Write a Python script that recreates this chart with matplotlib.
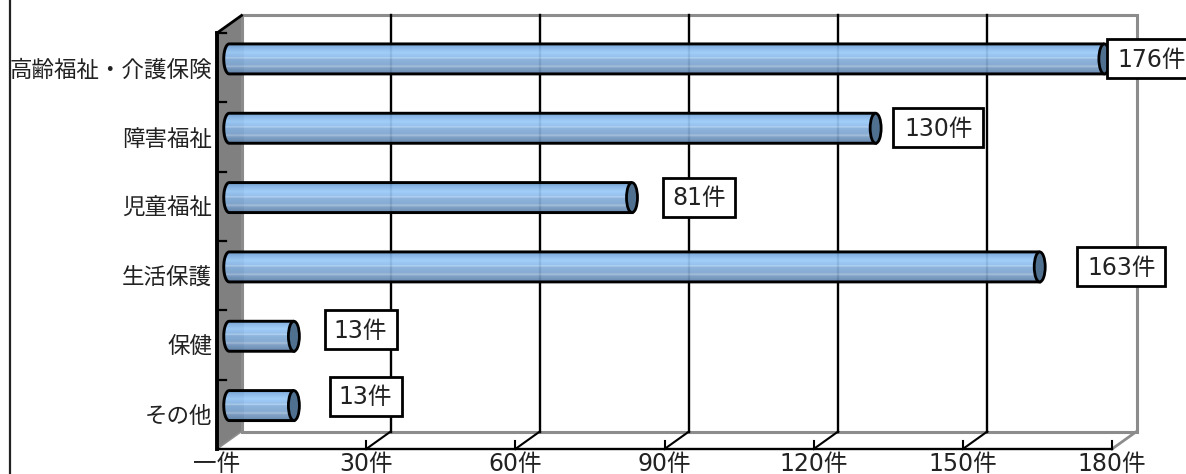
import matplotlib
matplotlib.use("Agg")
import matplotlib.pyplot as plt
from matplotlib.lines import Line2D
from matplotlib.patches import Ellipse, PathPatch, Polygon, Rectangle
from matplotlib.path import Path
from matplotlib.colors import LinearSegmentedColormap
import numpy as np

plt.rcParams["font.family"] = ["DejaVu Sans", "Noto Sans CJK JP"]

categories = ["高齢福祉・介護保険", "障害福祉", "児童福祉", "生活保護", "保健", "その他"]
counts = [176, 130, 81, 163, 13, 13]
x_ticks = [0, 30, 60, 90, 120, 150, 180]
x_tick_labels = ["一件", "30件", "60件", "90件", "120件", "150件", "180件"]

# value label box offsets from the end of each bar, in pixels
label_dx = [15, 30, 43, 50, 43, 48]
label_dy = [-9, -9, -9, -9, -15, -18]
label_w = [90, 90, 72, 88, 72, 72]

W, H = 1186, 474
fig = plt.figure(figsize=(W / 100, H / 100), dpi=100)
ax = fig.add_axes([217 / W, (H - 449) / H, 895 / W, 416 / H])
ax.set_xlim(0, 180)
ax.set_ylim(6, 0)
ax.axis("off")

# pixel sizes expressed in data units
ux = 180 / 895
uy = 6 / 416
depth_x = 24.5 * ux
depth_y = 17.5 * uy
GRAY = "#8c8c8c"
TEXT = "#222222"

# side wall
ax.add_patch(Polygon([(0, 0), (depth_x, -depth_y), (depth_x, 6 - depth_y), (0, 6)],
                     closed=True, facecolor="#808080", edgecolor="none", clip_on=False, zorder=1))

# back plane and floor edges
ax.plot([depth_x, 180 + depth_x, 180 + depth_x, depth_x, depth_x],
        [-depth_y, -depth_y, 6 - depth_y, 6 - depth_y, -depth_y],
        color=GRAY, lw=2.2, clip_on=False, zorder=1.5, solid_joinstyle="miter")
ax.plot([0, depth_x], [6, 6 - depth_y], color=GRAY, lw=1.2, clip_on=False, zorder=1.5)
ax.plot([180, 180 + depth_x], [6, 6 - depth_y], color=GRAY, lw=2, clip_on=False, zorder=1.5)

# grid lines run over the back plane and down across the floor
for t in x_ticks[1:-1]:
    ax.plot([t + depth_x, t + depth_x], [-depth_y, 6 - depth_y], color="black", lw=1.7, clip_on=False, zorder=2)
    ax.plot([t + depth_x, t], [6 - depth_y, 6], color="black", lw=1.5, clip_on=False, zorder=2)
for t in x_ticks[1:]:
    ax.plot([t, t], [6, 6 - 8 * uy], color="black", lw=1.5, clip_on=False, zorder=2)

# front axis lines
ax.plot([0, 0], [0, 6], color="black", lw=2.8, clip_on=False, zorder=3)
ax.plot([0, depth_x], [0, -depth_y], color="black", lw=2, clip_on=False, zorder=3)
ax.plot([0, 180], [6, 6], color="black", lw=1.7, clip_on=False, zorder=3)
for i in range(6):
    ax.plot([0, 9 * ux], [i, i], color="black", lw=1.6, clip_on=False, zorder=3)

# cylinder bars
bar_cmap = LinearSegmentedColormap.from_list(
    "bar", [(0, "#6f9fd0"), (0.12, "#84b4e6"), (0.28, "#9ccbfa"), (0.42, "#8fbcec"), (0.46, "#b4d4f2"),
            (0.5, "#86b0dc"), (0.7, "#7fa6d0"), (0.74, "#a4c0dc"), (0.8, "#7a9cc4"), (1, "#5f83aa")])
gradient = np.linspace(0, 1, 128).reshape(-1, 1)
half_h = 15 * uy
rx = 5.5 * ux
for i, (name, value) in enumerate(zip(categories, counts)):
    yc = i + 0.5 - depth_y / 2
    x_end = value + depth_x / 2
    x_start = depth_x / 2
    t = np.linspace(np.pi / 2, 3 * np.pi / 2, 40)
    outline = [(x_end, yc - half_h)]
    outline += list(zip(x_start + rx * np.cos(t), yc - half_h * np.sin(t)))
    outline += [(x_end, yc + half_h), (x_end, yc - half_h)]
    body = PathPatch(Path(outline), facecolor="none", edgecolor="black", lw=2.1, clip_on=False, zorder=5)
    ax.add_patch(body)
    img = ax.imshow(gradient, cmap=bar_cmap, aspect="auto", alpha=0.94, zorder=4,
                    extent=[x_start - rx, x_end, yc + half_h, yc - half_h])
    img.set_clip_path(Path(outline), ax.transData)
    ax.add_patch(Ellipse((x_end, yc), 2 * rx, 2 * half_h, facecolor="#50708f", edgecolor="black",
                         lw=2, clip_on=False, zorder=6))

    # category label
    ax.text(-5 * ux, i + 0.5 + 2 * uy, name, ha="right", va="center", fontsize=16.2, color=TEXT, clip_on=False)

    # value label in a white box
    bx = value + label_dx[i] * ux
    by = i + 0.5 + label_dy[i] * uy
    ax.add_patch(Rectangle((bx, by - 19.5 * uy), label_w[i] * ux, 39 * uy, facecolor="white",
                           edgecolor="black", lw=2, clip_on=False, zorder=7))
    ax.text(bx + label_w[i] * ux / 2, by + uy, f"{value}件", ha="center", va="center", fontsize=17,
            color=TEXT, zorder=8, clip_on=False)

ax.set_xlim(0, 180)
ax.set_ylim(6, 0)

# value axis labels
for t, lab in zip(x_ticks, x_tick_labels):
    ax.text(t, 6 + 15 * uy, lab, ha="center", va="center", fontsize=17, color=TEXT, clip_on=False)

# frame edge on the left side of the figure
fig.add_artist(Line2D([9.5 / W, 9.5 / W], [0, 1], color="#222222", lw=1.6))

fig.savefig("out.png", dpi=100)
